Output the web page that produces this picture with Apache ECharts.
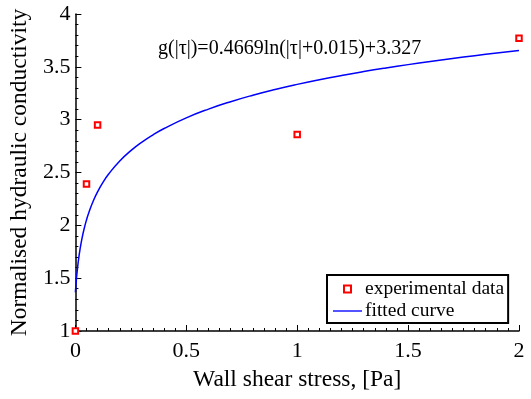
<!DOCTYPE html>
<html>
<head>
<meta charset="utf-8">
<script src="https://cdn.jsdelivr.net/npm/echarts@6/dist/echarts.min.js"></script>
<style>
  html, body { margin: 0; padding: 0; background: #fff; }
  #chart { width: 531px; height: 399px; }
</style>
</head>
<body>
<div id="chart"></div>
<script>
// Measured points: wall shear stress [Pa] vs normalised hydraulic conductivity
const shearStress = [0, 0.05, 0.1, 1, 2];
const conductivity = [1, 2.39, 2.95, 2.86, 3.77];

// Logarithmic fit g(|tau|) = a*ln(|tau| + c) + b
const fitA = 0.4669;
const fitC = 0.015;
const fitB = 3.327;

// Abscissae at which the fitted curve is evaluated (denser near zero)
const curveX = [0, 0.002, 0.005, 0.01, 0.015, 0.02, 0.03, 0.04, 0.05, 0.06, 0.08, 0.1,
  0.125, 0.15, 0.2, 0.25, 0.3, 0.35, 0.4, 0.5, 0.6, 0.7, 0.8, 0.9, 1, 1.1, 1.2,
  1.3, 1.4, 1.5, 1.6, 1.7, 1.8, 1.9, 2];

const xTicks = [0, 0.5, 1, 1.5, 2];
const yTicks = [1, 1.5, 2, 2.5, 3, 3.5, 4];

const curveData = curveX.map(x => [x, fitA * Math.log(x + fitC) + fitB]);
const fitLabel = 'g(|\u03c4|)=' + fitA + 'ln(|\u03c4|+' + fitC + ')+' + fitB;

const FONT = '"Liberation Serif", "Times New Roman", serif';

const chart = echarts.init(document.getElementById('chart'), null, { renderer: 'canvas' });

const axisCommon = {
  axisLine: { show: true, onZero: false, lineStyle: { color: '#000', width: 1.5 } },
  axisTick: { show: true, inside: true, length: 6, lineStyle: { color: '#000', width: 1 } },
  minorTick: { show: true, length: 3, lineStyle: { color: '#000', width: 1 } },
  splitLine: { show: false },
  axisLabel: { color: '#000', fontFamily: FONT, fontSize: 22 },
  nameTextStyle: { color: '#000', fontFamily: FONT, fontSize: 23.5 }
};

chart.setOption({
  animation: false,
  backgroundColor: '#fff',
  grid: { left: 75, right: 12, top: 14, bottom: 68, containLabel: false },
  xAxis: Object.assign({}, axisCommon, {
    type: 'value',
    min: xTicks[0], max: xTicks[xTicks.length - 1], interval: 0.5,
    minorTick: Object.assign({}, axisCommon.minorTick, { splitNumber: 10 }),
    axisLabel: Object.assign({}, axisCommon.axisLabel, { margin: 9 }),
    name: 'Wall shear stress, [Pa]',
    nameLocation: 'middle',
    nameGap: 37
  }),
  yAxis: Object.assign({}, axisCommon, {
    type: 'value',
    min: yTicks[0], max: yTicks[yTicks.length - 1], interval: 0.5,
    minorTick: Object.assign({}, axisCommon.minorTick, { splitNumber: 5 }),
    axisLabel: Object.assign({}, axisCommon.axisLabel, { margin: 5 }),
    name: 'Normalised hydraulic conductivity',
    nameLocation: 'middle',
    nameGap: 42
  }),
  legend: {
    orient: 'vertical',
    left: 327, top: 275,
    padding: [4, 4, 2, 6],
    itemGap: 2,
    itemWidth: 29, itemHeight: 7,
    symbolKeepAspect: true,
    borderColor: '#000', borderWidth: 2,
    backgroundColor: '#fff',
    textStyle: { color: '#000', fontFamily: FONT, fontSize: 19.5, padding: [0, 0, 0, -2] },
    data: [
      {
        name: 'experimental data',
        icon: 'path://M0,0L1,0L1,1L0,1Z',
        itemStyle: { color: '#fff', borderColor: '#ff0000', borderWidth: 2 }
      },
      {
        name: 'fitted curve',
        icon: 'path://M0,0L30,0L30,1.4L0,1.4Z',
        itemStyle: { color: '#0000ff', borderWidth: 0 }
      }
    ]
  },
  graphic: [{
    type: 'text',
    left: 158, top: 39,
    style: { text: fitLabel, fill: '#000', font: '20px ' + FONT }
  }],
  series: [
    {
      name: 'fitted curve',
      type: 'line',
      data: curveData,
      smooth: true,
      showSymbol: false,
      symbol: 'none',
      lineStyle: { color: '#0000ff', width: 1.5 },
      itemStyle: { color: '#0000ff' },
      z: 2
    },
    {
      name: 'experimental data',
      type: 'scatter',
      data: shearStress.map((x, i) => [x, conductivity[i]]),
      symbol: 'rect',
      symbolSize: 5.5,
      itemStyle: { color: '#fff', borderColor: '#ff0000', borderWidth: 2, opacity: 1 },
      clip: false,
      z: 3
    }
  ]
});
</script>
</body>
</html>
